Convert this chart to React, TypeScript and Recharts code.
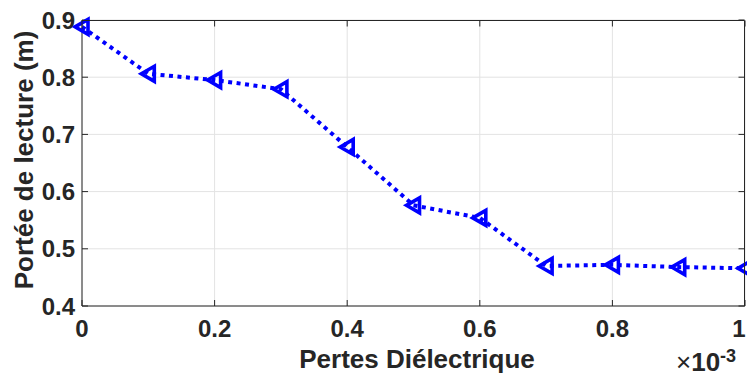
import { LineChart, Line, XAxis, YAxis, CartesianGrid } from "recharts";

// Dielectric losses (x) vs read range in metres (y)
const losses = [0, 0.0001, 0.0002, 0.0003, 0.0004, 0.0005, 0.0006, 0.0007, 0.0008, 0.0009, 0.001];
const readRange = [0.888, 0.806, 0.795, 0.779, 0.678, 0.576, 0.554, 0.470, 0.472, 0.468, 0.466];
const xTicks = [0, 0.0002, 0.0004, 0.0006, 0.0008, 0.001];
const yTicks = [0.4, 0.5, 0.6, 0.7, 0.8, 0.9];
const xDomain = [0, 0.001];
const yDomain = [0.4, 0.9];

const chartData = losses.map((x, i) => ({ x, y: readRange[i] }));

const FONT = "'Liberation Sans', Arial, Helvetica, sans-serif";
const DARK = "#262626";
const BLUE = "#0000ff";

// layout
const W = 747;
const H = 378;
const MARGIN = { top: 20, right: 2, bottom: 42, left: 0 };
const Y_AXIS_W = 82;
const X_AXIS_H = 30;
const PLOT = {
  x: MARGIN.left + Y_AXIS_W,
  y: MARGIN.top,
  w: W - MARGIN.left - MARGIN.right - Y_AXIS_W,
  h: H - MARGIN.top - MARGIN.bottom - X_AXIS_H,
};

const fmtX = (v: number) => String(Number((v * 1000).toFixed(1)));

// left-pointing triangle marker, MATLAB '<'
const TriangleDot = (props: any) => {
  const { cx, cy } = props;
  if (cx == null || cy == null) return null;
  return (
    <path
      d={`M${cx - 7},${cy} L${cx + 6},${cy - 7.5} L${cx + 6},${cy + 7.5} Z`}
      fill="none"
      stroke={BLUE}
      strokeWidth={3.6}
      strokeLinejoin="miter"
    />
  );
};

// bottom tick, last label nudged so it stays inside the page
const XTick = (props: any) => {
  const { x, y, payload, index } = props;
  const label = fmtX(payload.value);
  const shift = index === xTicks.length - 1 ? -6 : 0;
  return (
    <text
      x={x + shift}
      y={y}
      dy="0.71em"
      textAnchor="middle"
      fill={DARK}
      fontSize={24}
      fontWeight="bold"
      fontFamily={FONT}
    >
      {label}
    </text>
  );
};

// top + right edges of the axes box with inward ticks (MATLAB style),
// drawn as an overlay on top of the chart
const AxesBox = () => {
  const { x, y, w, h } = PLOT;
  const right = x + w - 0.5;
  const top = y + 0.5;
  const sx = (v: number) => x + ((v - xDomain[0]) / (xDomain[1] - xDomain[0])) * w;
  const sy = (v: number) => y + h - ((v - yDomain[0]) / (yDomain[1] - yDomain[0])) * h;
  return (
    <svg
      width={W}
      height={H}
      style={{ position: "absolute", left: 0, top: 0, pointerEvents: "none" }}
    >
      <g stroke={DARK} strokeWidth={1} fill="none">
        <line x1={x} y1={top} x2={right} y2={top} />
        <line x1={right} y1={top} x2={right} y2={y + h} />
        {xTicks.map((t) => (
          <line key={"t" + t} x1={sx(t)} y1={top} x2={sx(t)} y2={top + 6} />
        ))}
        {yTicks.map((t) => (
          <line key={"r" + t} x1={right} y1={sy(t)} x2={right - 6} y2={sy(t)} />
        ))}
      </g>
    </svg>
  );
};

export default function App() {
  return (
    <div style={{ position: "absolute", left: 0, top: 0, width: W, height: H, background: "#fff" }}>
      <LineChart width={W} height={H} data={chartData} margin={MARGIN} style={{ fontFamily: FONT }}>
        <CartesianGrid stroke="#e3e3e3" strokeWidth={1} />
        <XAxis
          dataKey="x"
          type="number"
          domain={xDomain}
          ticks={xTicks}
          interval={0}
          tickFormatter={fmtX}
          height={X_AXIS_H}
          tickSize={-6}
          tickMargin={20}
          stroke={DARK}
          tick={<XTick />}
        />
        <YAxis
          type="number"
          domain={yDomain}
          ticks={yTicks}
          interval={0}
          width={Y_AXIS_W}
          tickSize={-6}
          tickMargin={13}
          stroke={DARK}
          tick={{ fill: DARK, fontSize: 24, fontWeight: "bold", fontFamily: FONT }}
        />
        <Line
          type="linear"
          dataKey="y"
          stroke={BLUE}
          strokeWidth={4}
          strokeDasharray="4 4.5"
          dot={<TriangleDot />}
          activeDot={false}
          isAnimationActive={false}
        />
        <text
          x={417}
          y={368}
          textAnchor="middle"
          fill={DARK}
          fontSize={26}
          fontWeight="bold"
          fontFamily={FONT}
        >
          Pertes Diélectrique
        </text>
        <text
          x={33}
          y={160}
          transform="rotate(-90 33 160)"
          textAnchor="middle"
          fill={DARK}
          fontSize={26}
          fontWeight="bold"
          fontFamily={FONT}
        >
          Portée de lecture (m)
        </text>
        <text x={676} y={371} fill={DARK} fontSize={26} fontFamily={FONT} fontWeight="bold">
          <tspan fontWeight="normal">×</tspan>10
          <tspan dy={-9} fontSize={18}>-3</tspan>
        </text>
      </LineChart>
      <AxesBox />
    </div>
  );
}
